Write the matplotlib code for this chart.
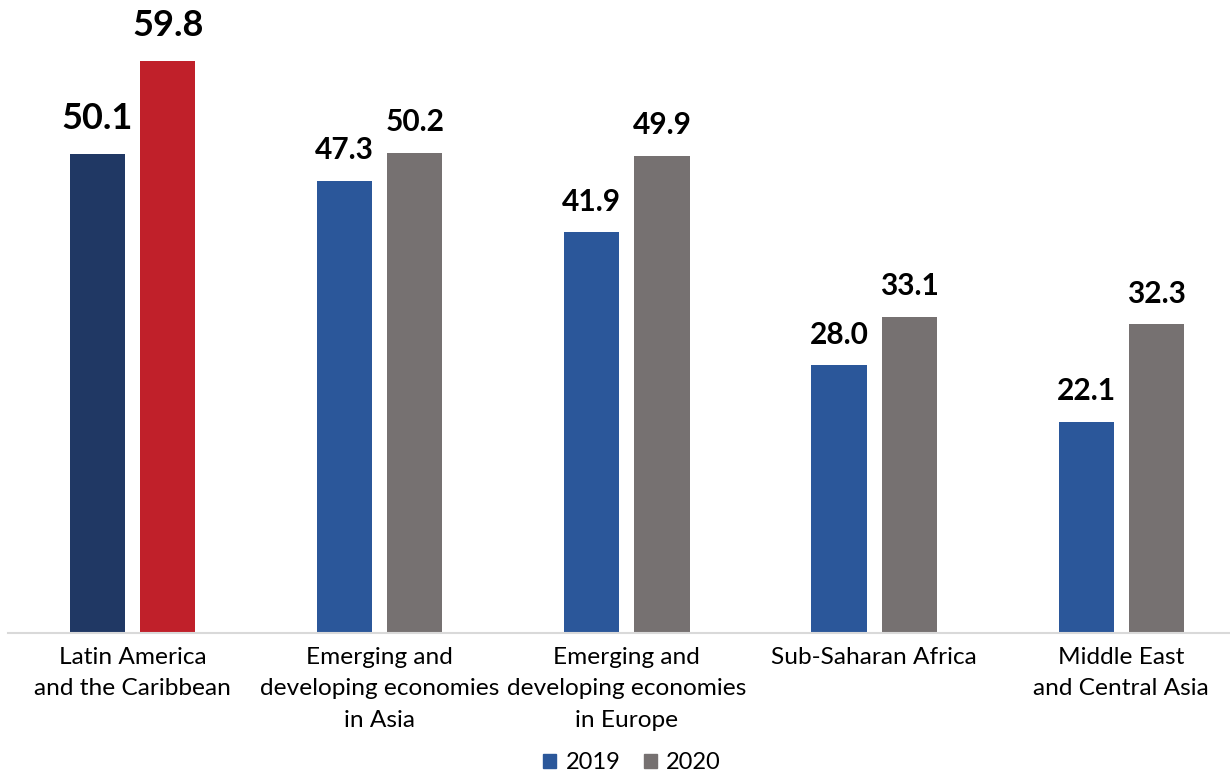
import numpy as np
import matplotlib
matplotlib.use("Agg")
import matplotlib.pyplot as plt
from matplotlib.patches import Patch

plt.rcParams["font.family"] = ["Lato", "DejaVu Sans"]

regions = [
    "Latin America\nand the Caribbean",
    "Emerging and\ndeveloping economies\nin Asia",
    "Emerging and\ndeveloping economies\nin Europe",
    "Sub-Saharan Africa",
    "Middle East\nand Central Asia",
]
values_2019 = [50.1, 47.3, 41.9, 28.0, 22.1]
values_2020 = [59.8, 50.2, 49.9, 33.1, 32.3]

BLUE = "#2B579A"
GRAY = "#767171"
NAVY = "#203864"
RED = "#C0202A"

fig = plt.figure(figsize=(12.3, 7.72), dpi=100)
ax = fig.add_axes([0.0065, 0.18, 0.9935, 0.82])

x = np.arange(len(regions))
width = 0.223
offset = 0.142

colors_2019 = [NAVY] + [BLUE] * (len(regions) - 1)
colors_2020 = [RED] + [GRAY] * (len(regions) - 1)

bars_2019 = ax.bar(x - offset, values_2019, width, color=colors_2019)
bars_2020 = ax.bar(x + offset, values_2020, width, color=colors_2020)

# value labels, the highlighted first group gets larger text
for bars, vals in ((bars_2019, values_2019), (bars_2020, values_2020)):
    for i, (b, v) in enumerate(zip(bars, vals)):
        size, gap = (26, 14) if i == 0 else (21.5, 12)
        ax.annotate(f"{v:.1f}", (b.get_x() + b.get_width() / 2, v),
                    xytext=(0, gap), textcoords="offset points",
                    ha="center", va="bottom", fontsize=size,
                    fontweight="bold", color="black")

ax.set_xlim(-0.504, 4.44)
ax.set_ylim(0, 66.2)

ax.set_xticks(x)
ax.set_xticklabels(regions, fontsize=17.6, linespacing=1.62)
ax.tick_params(axis="x", length=0, pad=10)
ax.set_yticks([])

for side in ("top", "left", "right"):
    ax.spines[side].set_visible(False)
ax.spines["bottom"].set_color("#D9D9D9")
ax.spines["bottom"].set_linewidth(1.5)

handles = [Patch(color=BLUE, label="2019"), Patch(color=GRAY, label="2020")]
fig.legend(handles=handles, loc="lower center", ncol=2,
           bbox_to_anchor=(632 / 1230, -0.02), frameon=False,
           fontsize=17, handlelength=0.55, handleheight=0.55,
           handletextpad=0.4, columnspacing=1.0, borderpad=0.1)

fig.savefig("out.png", dpi=100)
